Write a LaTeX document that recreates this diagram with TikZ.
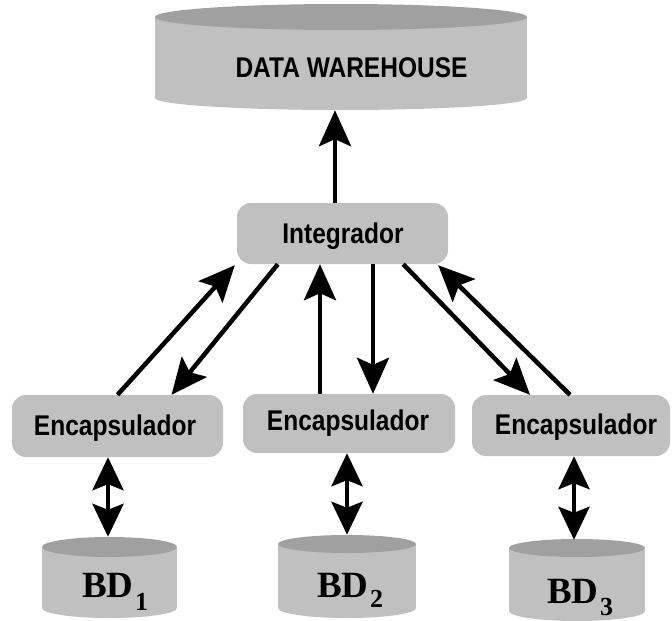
\documentclass[tikz,border=0pt]{standalone}
\usepackage{fontspec}
\usetikzlibrary{arrows.meta}

\newfontfamily\boxfont[FakeStretch=0.86]{Liberation Sans}
\newfontfamily\dbfont{Liberation Serif}

\definecolor{boxgray}{RGB}{192,192,192}
\definecolor{lidgray}{RGB}{160,160,160}

% cylinder: centre x, half width, top centre y, top radius, bottom centre y, bottom radius
\newcommand\drum[6]{%
  \fill[boxgray] ({#1-#2},#3) rectangle ({#1+#2},#5);
  \fill[boxgray] (#1,#5) ellipse[x radius=#2pt, y radius=#6pt];
  \fill[lidgray] (#1,#3) ellipse[x radius=#2pt, y radius=#4pt];
}

% database name with a lowered index
\newcommand\dbname[2]{BD\hspace{1.5pt}\raisebox{-#2pt}{\fontsize{26}{28}\selectfont #1}}

\begin{document}
\begin{tikzpicture}[x=1pt, y=-1pt,
  box/.style={fill=boxgray, rounded corners=14pt, inner sep=0pt},
  hull/.style={inner sep=0pt},
  lbl/.style={font=\boxfont\bfseries\fontsize{28.5}{31}\selectfont, inner sep=0pt, anchor=base},
  dblbl/.style={font=\dbfont\bfseries\fontsize{37}{40}\selectfont, inner sep=0pt, anchor=base west},
  tip/.tip={Stealth[length=36pt, width=32pt, inset=7pt]},
  twotip/.tip={Stealth[length=33pt, width=31pt, inset=6pt]},
  flow/.style={line width=4.5pt, -tip},
  both/.style={line width=4.5pt, twotip-twotip},
]
\useasboundingbox (0,0) rectangle (672,621);

% storage cylinders
\drum{341}{186}{17}{13}{98}{12}
\drum{109.5}{67.5}{547}{10}{608}{10}
\drum{347}{69}{544}{9}{608}{10}
\drum{577}{68}{548}{9}{611}{10}

% outlines of the cylinders, used as connector ends
\node[hull, minimum width=372pt, minimum height=107pt] (dw) at (341,56.5) {};
\node[hull, minimum width=135pt, minimum height=81pt] (bd1) at (109.5,577.5) {};
\node[hull, minimum width=138pt, minimum height=83pt] (bd2) at (347,576.5) {};
\node[hull, minimum width=136pt, minimum height=81pt] (bd3) at (577,580.5) {};

% process boxes
\node[box, minimum width=211pt, minimum height=61pt] (int) at (342.5,233.5) {};
\node[box, minimum width=211pt, minimum height=62pt] (enc1) at (117.5,426) {};
\node[box, minimum width=212pt, minimum height=59pt] (enc2) at (349,423.5) {};
\node[box, minimum width=198pt, minimum height=61pt] (enc3) at (571,425.5) {};

% texts
\node[lbl] (dwtext) at (351.5,77) {DATA WAREHOUSE};
\node[lbl] (inttext) at (343,243) {Integrador};
\node[lbl] (enc1text) at (115,435) {Encapsulador};
\node[lbl] (enc2text) at (348,430) {Encapsulador};
\node[lbl] (enc3text) at (576,434) {Encapsulador};
\node[dblbl] (bd1text) at (82,597) {\dbname{1}{13}};
\node[dblbl] (bd2text) at (317,597) {\dbname{2}{10}};
\node[dblbl] (bd3text) at (547,603) {\dbname{3}{12}};

% integrator to warehouse
\draw[flow] ([xshift=-7.5pt]int.north) -- ([xshift=-7.5pt]int.north |- dw.south);

% encapsulators and integrator
\draw[flow] (enc1.north) -- ([xshift=-2pt,yshift=-1pt]int.south west);
\draw[flow] ([xshift=41pt]int.south west) -- ([xshift=54pt]enc1.north);
\draw[flow] ([xshift=-29pt]enc2.north) -- ([xshift=-29pt]enc2.north |- int.south);
\draw[flow] ([xshift=24pt]enc2.north |- int.south) -- ([xshift=24pt]enc2.north);
\draw[flow] ([xshift=-45pt]int.south east) -- ([xshift=-41pt]enc3.north);
\draw[flow] ([xshift=-1pt]enc3.north) -- ([xshift=-10pt,yshift=-1pt]int.south east);

% encapsulators and sources
\draw[both] ([xshift=-9.5pt]enc1.south) -- ([xshift=-9.5pt]enc1.south |- bd1.north);
\draw[both] ([xshift=-2pt]enc2.south) -- ([xshift=-2pt]enc2.south |- bd2.north);
\draw[both] ([xshift=3pt]enc3.south) -- ([xshift=3pt]enc3.south |- bd3.north);
\end{tikzpicture}
\end{document}
